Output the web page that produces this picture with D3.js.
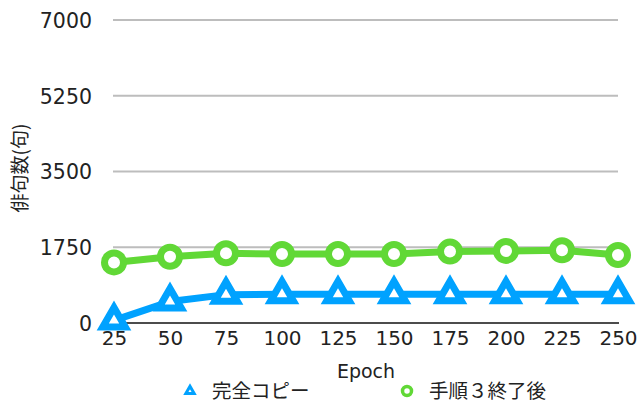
<!DOCTYPE html>
<html>
<head>
<meta charset="utf-8">
<script src="https://cdn.jsdelivr.net/npm/d3@7/dist/d3.min.js"></script>
<style>
  html, body { margin: 0; padding: 0; background: #fff; }
  svg { display: block; }
  text { font-family: "Noto Sans CJK JP", "Noto Sans", sans-serif; fill: #222; }
</style>
</head>
<body>
<svg id="chart" width="638" height="403"></svg>
<script>
// Epochs along the x axis
const epochs = [25, 50, 75, 100, 125, 150, 175, 200, 225, 250];
// Haiku counts per epoch for each series
const fullCopy = [60, 495, 655, 665, 665, 665, 665, 665, 665, 665];
const afterStep3 = [1400, 1530, 1610, 1595, 1595, 1595, 1650, 1665, 1680, 1570];
const yTicks = [0, 1750, 3500, 5250, 7000];
const seriesNames = ["完全コピー", "手順３終了後"];
const colors = ["#00A2FF", "#61D836"];

const latin = "'DejaVu Sans', sans-serif";

const svg = d3.select("#chart");

const x = d3.scalePoint().domain(epochs).range([114, 618]);
const y = d3.scaleLinear().domain([0, 7000]).range([323, 20]);

// Horizontal gridlines
svg.append("g").selectAll("line")
  .data(yTicks.filter(d => d > 0))
  .join("line")
  .attr("x1", 113).attr("x2", 618)
  .attr("y1", d => y(d)).attr("y2", d => y(d))
  .attr("stroke", "#bdbdbd").attr("stroke-width", 2);

// Y tick labels
const yAxis = d3.axisLeft(y).tickValues(yTicks).tickFormat(d3.format("d")).tickSize(0).tickPadding(0);
const gy = svg.append("g").attr("transform", "translate(92,0)").call(yAxis);
gy.select(".domain").remove();
gy.selectAll("text")
  .attr("font-size", 20.5)
  .attr("dy", "0.36em")
  .style("font-family", latin)
  .attr("fill", "#222");

// X axis labels
const xAxis = d3.axisBottom(x).tickSize(0).tickPadding(0);
const gx = svg.append("g").attr("transform", "translate(0,331)").call(xAxis);
gx.select(".domain").remove();
gx.selectAll("text")
  .attr("font-size", 20)
  .attr("dy", "0.72em")
  .style("font-family", latin)
  .attr("fill", "#222");

// Zero baseline
svg.append("line")
  .attr("x1", 113).attr("x2", 619)
  .attr("y1", y(0)).attr("y2", y(0))
  .attr("stroke", "#111").attr("stroke-width", 1.5);

// Axis titles
svg.append("text")
  .attr("x", 366).attr("y", 378)
  .attr("text-anchor", "middle")
  .attr("font-size", 19)
  .style("font-family", latin)
  .text("Epoch");

svg.append("text")
  .attr("transform", "translate(27,168) rotate(-90)")
  .attr("text-anchor", "middle")
  .attr("font-size", 19)
  .text("俳句数(句)");

const line = d3.line().x((d, i) => x(epochs[i])).y(d => y(d));

const tri = d3.symbol(d3.symbolTriangle, 220);
const circ = d3.symbol(d3.symbolCircle, Math.PI * 9.5 * 9.5);

// Series: full copy (triangles)
svg.append("path")
  .datum(fullCopy)
  .attr("d", line)
  .attr("fill", "none")
  .attr("stroke", colors[0])
  .attr("stroke-width", 7)
  .attr("stroke-linejoin", "round");

svg.append("g").selectAll("path")
  .data(fullCopy)
  .join("path")
  .attr("d", tri)
  .attr("transform", (d, i) => `translate(${x(epochs[i])},${y(d)})`)
  .attr("fill", "#fff")
  .attr("stroke", colors[0])
  .attr("stroke-width", 7)
  .attr("stroke-linejoin", "miter");

// Series: after step 3 (circles)
svg.append("path")
  .datum(afterStep3)
  .attr("d", line)
  .attr("fill", "none")
  .attr("stroke", colors[1])
  .attr("stroke-width", 7)
  .attr("stroke-linejoin", "round");

svg.append("g").selectAll("path")
  .data(afterStep3)
  .join("path")
  .attr("d", circ)
  .attr("transform", (d, i) => `translate(${x(epochs[i])},${y(d)})`)
  .attr("fill", "#fff")
  .attr("stroke", colors[1])
  .attr("stroke-width", 7);

// Legend
const legendX = [190, 407];
const legend = svg.append("g").selectAll("g")
  .data(seriesNames)
  .join("g")
  .attr("transform", (d, i) => `translate(${legendX[i]},391)`);

legend.append("path")
  .attr("d", (d, i) => i === 0
    ? d3.symbol(d3.symbolTriangle, 30)()
    : d3.symbol(d3.symbolCircle, Math.PI * 4.5 * 4.5)())
  .attr("fill", "#fff")
  .attr("stroke", (d, i) => colors[i])
  .attr("stroke-width", (d, i) => i === 0 ? 3 : 3.5);

legend.append("text")
  .attr("x", 22)
  .attr("y", 0)
  .attr("dy", "0.36em")
  .attr("font-size", 19.5)
  .text(d => d);
</script>
</body>
</html>
